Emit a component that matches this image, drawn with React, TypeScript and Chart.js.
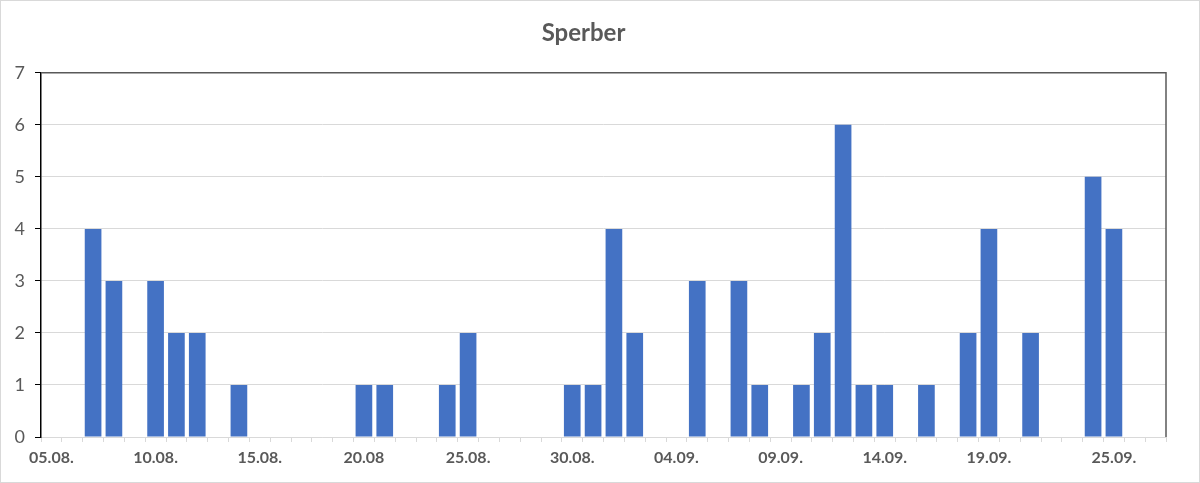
import { useEffect, useRef } from 'react';
import { Chart, registerables } from 'chart.js';

Chart.register(...registerables);

// one category per day, 05.08. – 27.09.
const days = [
  '05.08.', '06.08.', '07.08.', '08.08.', '09.08.', '10.08.', '11.08.', '12.08.', '13.08.', '14.08.',
  '15.08.', '16.08.', '17.08.', '18.08.', '19.08.', '20.08.', '21.08.', '22.08.', '23.08.', '24.08.',
  '25.08.', '26.08.', '27.08.', '28.08.', '29.08.', '30.08.', '31.08.', '01.09.', '02.09.', '03.09.',
  '04.09.', '05.09.', '06.09.', '07.09.', '08.09.', '09.09.', '10.09.', '11.09.', '12.09.', '13.09.',
  '14.09.', '15.09.', '16.09.', '17.09.', '18.09.', '19.09.', '20.09.', '21.09.', '22.09.', '23.09.',
  '24.09.', '25.09.', '26.09.', '27.09.',
];

const counts = [
  0, 0, 4, 3, 0, 3, 2, 2, 0, 1,
  0, 0, 0, 0, 0, 1, 1, 0, 0, 1,
  2, 0, 0, 0, 0, 1, 1, 4, 2, 0,
  0, 3, 0, 3, 1, 0, 1, 2, 6, 1,
  1, 0, 1, 0, 2, 4, 0, 2, 0, 0,
  5, 4, 0, 0,
];

// days that get a label on the axis, and the text shown there
const tickDays = ['05.08.', '10.08.', '15.08.', '20.08.', '25.08.', '30.08.', '04.09.', '09.09.', '14.09.', '19.09.', '25.09.'];
const tickTexts = ['05.08.', '10.08.', '15.08.', '20.08', '25.08.', '30.08.', '04.09.', '09.09.', '14.09.', '19.09.', '25.09.'];

const FONT = 'Lato, "Noto Sans", sans-serif';
const TEXT = '#595959';
const GRID = '#d9d9d9';

// dark frame on top and right of the plot area
const plotFrame = {
  id: 'plotFrame',
  afterDraw(chart) {
    const { ctx, chartArea } = chart;
    ctx.save();
    ctx.strokeStyle = '#595959';
    ctx.lineWidth = 1.5;
    ctx.beginPath();
    ctx.moveTo(chartArea.left, chartArea.top);
    ctx.lineTo(chartArea.right, chartArea.top);
    ctx.lineTo(chartArea.right, chartArea.bottom);
    ctx.stroke();
    ctx.restore();
  },
};

const SperberChart = () => {
  const chartRef = useRef(null);
  const chartInstanceRef = useRef(null);

  useEffect(() => {
    const ctx = chartRef.current.getContext('2d');

    if (chartInstanceRef.current) {
      chartInstanceRef.current.destroy();
    }

    chartInstanceRef.current = new Chart(ctx, {
      type: 'bar',
      data: {
        labels: days,
        datasets: [
          {
            label: 'Sperber',
            data: counts,
            backgroundColor: '#4472c4',
            borderWidth: 0,
            categoryPercentage: 1,
            barPercentage: 0.8,
          },
        ],
      },
      options: {
        animation: false,
        responsive: true,
        maintainAspectRatio: false,
        layout: {
          padding: { left: 0, right: 33, top: 0, bottom: 0 },
        },
        scales: {
          x: {
            offset: true,
            grid: {
              offset: true,
              drawOnChartArea: false,
              drawTicks: true,
              tickLength: 5,
              color: GRID,
            },
            border: { color: GRID, width: 1 },
            ticks: {
              autoSkip: false,
              maxRotation: 0,
              minRotation: 0,
              padding: 6,
              color: TEXT,
              font: { family: FONT, size: 16, weight: 'bold' },
              callback: (value, index) => {
                const k = tickDays.indexOf(days[index]);
                return k >= 0 ? tickTexts[k] : '';
              },
            },
            afterFit: (scale) => {
              scale.height = 45;
            },
          },
          y: {
            min: 0,
            max: 7,
            grid: {
              color: GRID,
              tickColor: '#000',
              tickLength: 6,
            },
            border: { color: '#000', width: 1.5 },
            ticks: {
              stepSize: 1,
              padding: 10,
              color: TEXT,
              font: { family: FONT, size: 18 },
            },
            afterFit: (scale) => {
              scale.width = 40;
            },
          },
        },
        plugins: {
          legend: { display: false },
          tooltip: { enabled: false },
          title: {
            display: true,
            text: 'Sperber',
            color: TEXT,
            font: { family: FONT, size: 24, weight: 'bold' },
            padding: { top: 18, bottom: 25 },
          },
        },
      },
      plugins: [plotFrame],
    });

    return () => {
      if (chartInstanceRef.current) {
        chartInstanceRef.current.destroy();
        chartInstanceRef.current = null;
      }
    };
  }, []);

  return (
    <div
      style={{
        width: 1200,
        height: 483,
        boxSizing: 'border-box',
        border: '1px solid #d9d9d9',
        background: '#fff',
        position: 'relative',
      }}
    >
      <canvas ref={chartRef}></canvas>
    </div>
  );
};

export default function App() {
  return (
    <>
      <style>{'body { margin: 0; }'}</style>
      <SperberChart />
    </>
  );
}
